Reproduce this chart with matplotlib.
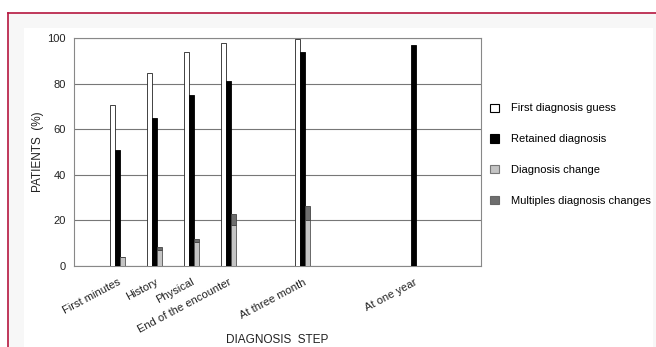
import matplotlib.pyplot as plt
import numpy as np
from matplotlib.patches import Rectangle
from matplotlib.lines import Line2D

plt.rcParams['font.family'] = ['Liberation Sans', 'DejaVu Sans']

# data
steps = ['First minutes', 'History', 'Physical', 'End of the encounter',
         'At three month', 'At one year']
step_pos = [0, 1, 2, 3, 5, 8]
first_guess = [70.5, 84.5, 94, 98, 99.5, 0]
retained = [51, 65, 75, 81, 94, 97]
change = [3.8, 7, 10.5, 18, 20, 0]
multi_change = [0, 1.2, 1.2, 5, 6.5, 0]

W, H = 656, 347
fig = plt.figure(figsize=(W/100, H/100), dpi=100)
fig.patch.set_facecolor('white')

# page frame: light gray band, white panel, red rule top and left
fig.add_artist(Rectangle((8/W, 0), 1-8/W, 1-13/H, transform=fig.transFigure,
                         facecolor='#f7f7f7', edgecolor='none', zorder=-3))
fig.add_artist(Rectangle((24/W, 0), 629/W, 1-28/H, transform=fig.transFigure,
                         facecolor='white', edgecolor='none', zorder=-2))
fig.add_artist(Line2D([8/W, 1], [1-13/H, 1-13/H], transform=fig.transFigure,
                      color='#b5173f', lw=1.2))
fig.add_artist(Line2D([8/W, 8/W], [0, 1-13/H], transform=fig.transFigure,
                      color='#b5173f', lw=1.2))

ax = fig.add_axes([74/W, 1-266/H, 407/W, 228/H])
ax.set_facecolor('white')

x = np.array(step_pos, dtype=float)
bw = 0.135
ax.bar(x - bw, first_guess, bw, color='white', edgecolor='#222222', lw=0.6, zorder=3)
ax.bar(x, retained, bw, color='black', edgecolor='black', lw=0.6, zorder=3)
ax.bar(x + bw, change, bw, color='#c4c4c4', edgecolor='#555555', lw=0.6, zorder=3)
ax.bar(x + bw, multi_change, bw, bottom=change, color='#6e6e6e',
       edgecolor='#444444', lw=0.6, zorder=3)

ax.set_xlim(-1.18, 9.82)
ax.set_ylim(0, 100)
ax.set_yticks([0, 20, 40, 60, 80, 100])
ax.yaxis.grid(True, color='#777777', lw=0.8)
ax.set_axisbelow(True)
for s in ax.spines.values():
    s.set_color('#888888')
    s.set_linewidth(0.8)
ax.tick_params(axis='both', length=0, labelsize=8, colors='#222222')
ax.tick_params(axis='y', pad=6)
ax.set_xticks(x)
ax.set_xticklabels(steps, rotation=28, ha='right', rotation_mode='anchor')
ax.tick_params(axis='x', pad=8)

ax.set_ylabel('PATIENTS  (%)', fontsize=8.5, color='#222222', labelpad=2)
fig.text(277/W, 1-340/H, 'DIAGNOSIS  STEP', fontsize=8.5, color='#222222',
         ha='center', va='center')

handles = [Rectangle((0, 0), 1, 1, facecolor='white', edgecolor='black', lw=0.8),
           Rectangle((0, 0), 1, 1, facecolor='black', edgecolor='black', lw=0.8),
           Rectangle((0, 0), 1, 1, facecolor='#c4c4c4', edgecolor='#777777', lw=0.8),
           Rectangle((0, 0), 1, 1, facecolor='#6e6e6e', edgecolor='#666666', lw=0.8)]
labels = ['First diagnosis guess', 'Retained diagnosis', 'Diagnosis change',
          'Multiples diagnosis changes']
fig.legend(handles, labels, loc='upper left', bbox_to_anchor=(486/W, 1-99/H),
           frameon=False, fontsize=8, handlelength=0.75, handleheight=0.75,
           handletextpad=1.1, labelspacing=1.88, borderaxespad=0)

fig.savefig('out.png', dpi=100)
